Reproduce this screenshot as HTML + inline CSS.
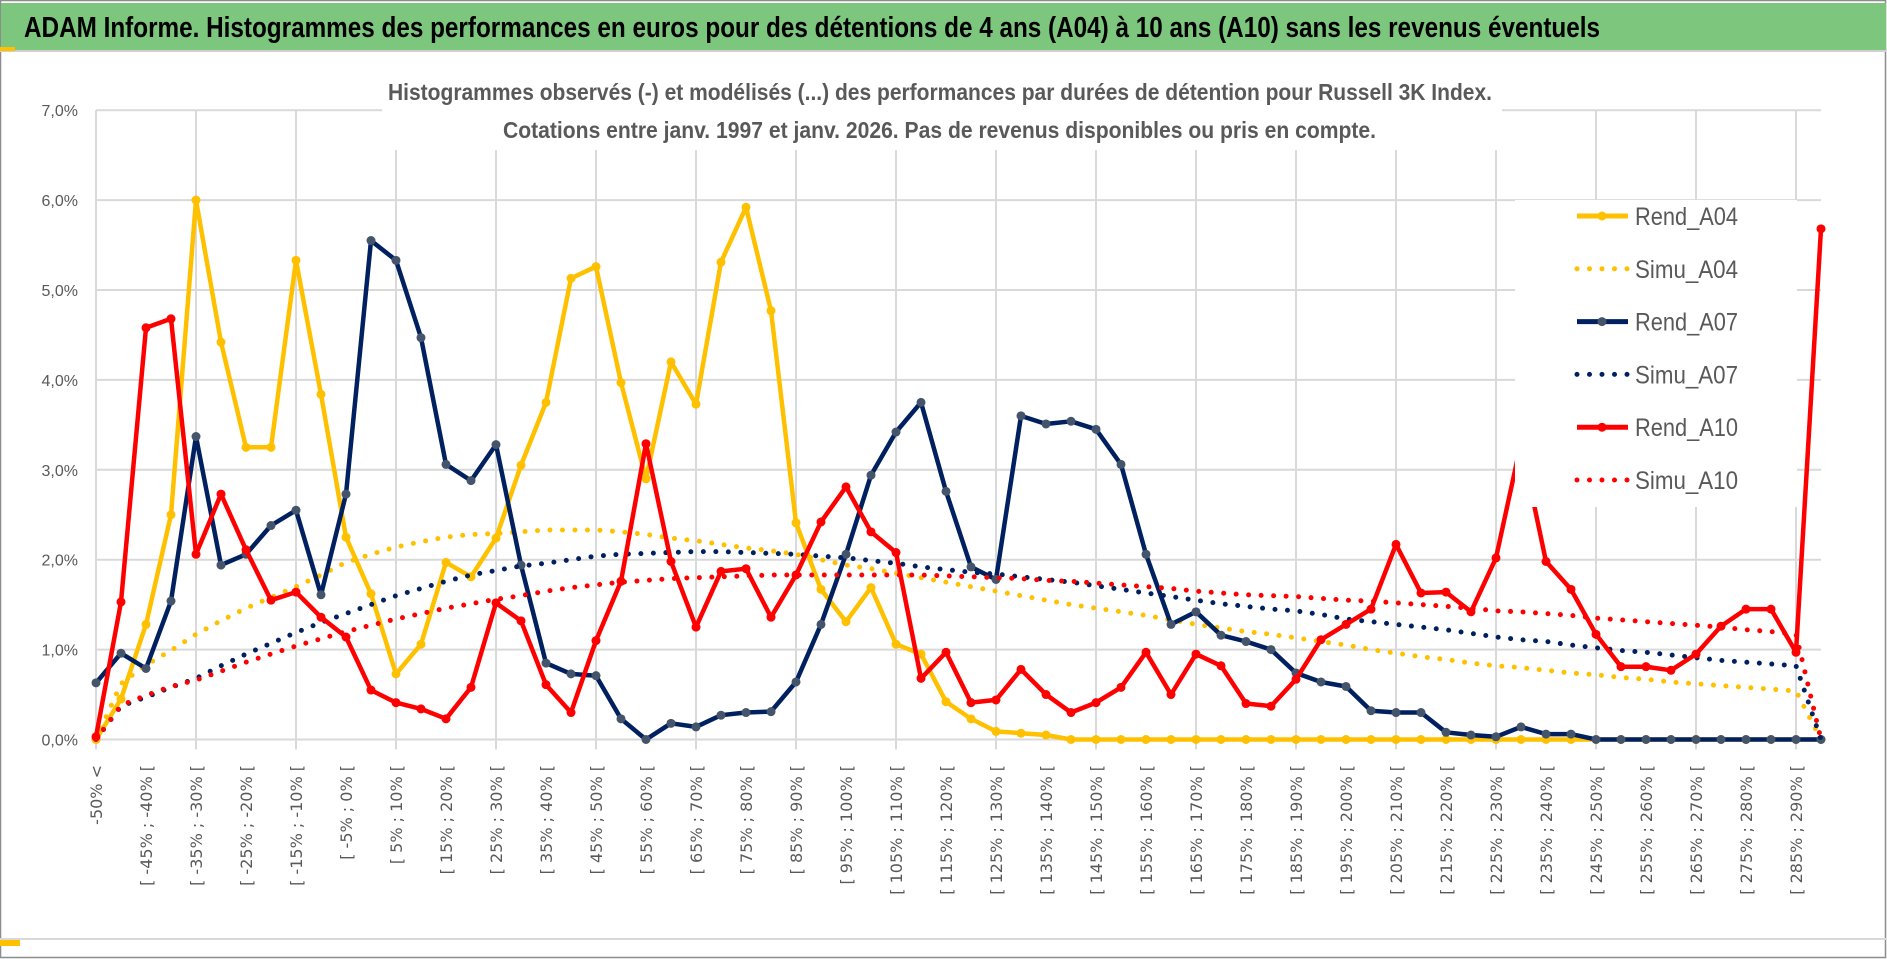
<!DOCTYPE html>
<html><head><meta charset="utf-8"><style>
html,body{margin:0;padding:0;background:#fff;}
svg{display:block;font-family:"Liberation Sans",sans-serif;}
</style></head><body>
<svg id="chart" width="1887" height="959" viewBox="0 0 1887 959" xmlns="http://www.w3.org/2000/svg">
<rect x="0" y="0" width="1887" height="959" fill="#fff"/>
<rect x="0.5" y="0.5" width="1885" height="957" fill="none" stroke="#8c8c8c" stroke-width="1.5"/>
<rect x="1" y="3" width="1885" height="47" fill="#7DC67D"/>
<line x1="0" y1="51" x2="1887" y2="51" stroke="#d0d0d0" stroke-width="2"/>
<rect x="0" y="47" width="15" height="4" fill="#FFC000"/>
<line x1="0" y1="939" x2="1887" y2="939" stroke="#d9d9d9" stroke-width="2"/>
<rect x="0" y="940" width="20" height="6" fill="#FFC000"/>
<text x="24" y="37" font-size="29" font-weight="bold" fill="#000" textLength="1576" lengthAdjust="spacingAndGlyphs">ADAM Informe. Histogrammes des performances en euros pour des détentions de 4 ans (A04) à 10 ans (A10) sans les revenus éventuels</text>
<g id="grid"></g>
<g id="yaxis"></g>
<g id="xaxis"></g>
<rect x="382" y="68" width="1120" height="82" fill="#fff"/>
<text x="388" y="100" font-size="23" font-weight="bold" fill="#595959" textLength="1104" lengthAdjust="spacingAndGlyphs">Histogrammes observés (-) et modélisés (...) des performances par durées de détention pour Russell 3K Index.</text>
<text x="503" y="138" font-size="23" font-weight="bold" fill="#595959" textLength="873" lengthAdjust="spacingAndGlyphs">Cotations entre janv. 1997 et janv. 2026. Pas de revenus disponibles ou pris en compte.</text>
<g id="series"></g>
<g id="legend"></g>
</svg>
<script>
const categories = ["-50% <","[ -50% ; -45% [","[ -45% ; -40% [","[ -40% ; -35% [","[ -35% ; -30% [","[ -30% ; -25% [","[ -25% ; -20% [","[ -20% ; -15% [","[ -15% ; -10% [","[ -10% ; -5% [","[ -5% ; 0% [","[ 0% ; 5% [","[ 5% ; 10% [","[ 10% ; 15% [","[ 15% ; 20% [","[ 20% ; 25% [","[ 25% ; 30% [","[ 30% ; 35% [","[ 35% ; 40% [","[ 40% ; 45% [","[ 45% ; 50% [","[ 50% ; 55% [","[ 55% ; 60% [","[ 60% ; 65% [","[ 65% ; 70% [","[ 70% ; 75% [","[ 75% ; 80% [","[ 80% ; 85% [","[ 85% ; 90% [","[ 90% ; 95% [","[ 95% ; 100% [","[ 100% ; 105% [","[ 105% ; 110% [","[ 110% ; 115% [","[ 115% ; 120% [","[ 120% ; 125% [","[ 125% ; 130% [","[ 130% ; 135% [","[ 135% ; 140% [","[ 140% ; 145% [","[ 145% ; 150% [","[ 150% ; 155% [","[ 155% ; 160% [","[ 160% ; 165% [","[ 165% ; 170% [","[ 170% ; 175% [","[ 175% ; 180% [","[ 180% ; 185% [","[ 185% ; 190% [","[ 190% ; 195% [","[ 195% ; 200% [","[ 200% ; 205% [","[ 205% ; 210% [","[ 210% ; 215% [","[ 215% ; 220% [","[ 220% ; 225% [","[ 225% ; 230% [","[ 230% ; 235% [","[ 235% ; 240% [","[ 240% ; 245% [","[ 245% ; 250% [","[ 250% ; 255% [","[ 255% ; 260% [","[ 260% ; 265% [","[ 265% ; 270% [","[ 270% ; 275% [","[ 275% ; 280% [","[ 280% ; 285% [","[ 285% ; 290% [","[ 290% ; 295% ["];
const yTicks = [0,1,2,3,4,5,6,7];
const yTickLabels = ["0,0%","1,0%","2,0%","3,0%","4,0%","5,0%","6,0%","7,0%"];
const rendA04 = [0,0.45,1.28,2.5,6.0,4.42,3.25,3.25,5.33,3.84,2.25,1.62,0.73,1.06,1.97,1.81,2.24,3.05,3.75,5.13,5.26,3.97,2.90,4.20,3.73,5.31,5.92,4.77,2.41,1.67,1.31,1.69,1.06,0.95,0.42,0.23,0.09,0.07,0.05,0,0,0,0,0,0,0,0,0,0,0,0,0,0,0,0,0,0,0,0,0,0,0,0,0,0,0,0,0,0,0];
const simuA04 = [0,0.62,0.83,0.99,1.17,1.32,1.46,1.58,1.70,1.83,1.97,2.06,2.14,2.20,2.25,2.28,2.29,2.31,2.33,2.33,2.33,2.31,2.28,2.24,2.21,2.17,2.13,2.10,2.06,2.00,1.94,1.90,1.85,1.80,1.75,1.70,1.65,1.60,1.55,1.50,1.46,1.42,1.38,1.33,1.28,1.24,1.20,1.17,1.13,1.09,1.05,1.00,0.96,0.92,0.89,0.85,0.82,0.80,0.77,0.74,0.72,0.69,0.67,0.64,0.62,0.60,0.58,0.56,0.54,0];
const rendA07 = [0.63,0.96,0.79,1.54,3.37,1.94,2.06,2.38,2.55,1.61,2.73,5.55,5.33,4.47,3.06,2.88,3.28,1.94,0.85,0.73,0.71,0.23,0,0.18,0.14,0.27,0.30,0.31,0.64,1.28,2.06,2.94,3.42,3.75,2.76,1.92,1.78,3.60,3.51,3.54,3.45,3.06,2.06,1.28,1.42,1.16,1.09,1.00,0.74,0.64,0.59,0.32,0.30,0.30,0.08,0.05,0.03,0.14,0.06,0.06,0,0,0,0,0,0,0,0,0,0];
const simuA07 = [0,0.37,0.47,0.58,0.68,0.82,0.95,1.07,1.19,1.30,1.40,1.50,1.60,1.68,1.76,1.83,1.88,1.93,1.96,2.00,2.04,2.06,2.07,2.08,2.09,2.09,2.08,2.07,2.06,2.04,2.02,1.99,1.96,1.92,1.89,1.86,1.84,1.81,1.78,1.75,1.71,1.67,1.63,1.59,1.55,1.51,1.48,1.45,1.43,1.39,1.34,1.31,1.28,1.25,1.22,1.18,1.14,1.11,1.09,1.05,1.02,0.99,0.97,0.94,0.91,0.88,0.86,0.84,0.82,0];
const rendA10 = [0.03,1.53,4.58,4.68,2.06,2.73,2.11,1.55,1.64,1.36,1.14,0.55,0.41,0.34,0.23,0.58,1.52,1.32,0.61,0.30,1.10,1.76,3.29,1.98,1.25,1.87,1.90,1.36,1.83,2.42,2.81,2.31,2.08,0.68,0.97,0.41,0.44,0.78,0.50,0.30,0.41,0.58,0.97,0.50,0.95,0.82,0.40,0.37,0.67,1.11,1.28,1.45,2.17,1.63,1.64,1.42,2.02,3.3,1.98,1.67,1.17,0.81,0.81,0.77,0.95,1.26,1.45,1.45,0.97,5.68];
const simuA10 = [0,0.38,0.49,0.59,0.66,0.76,0.86,0.95,1.04,1.12,1.20,1.27,1.34,1.40,1.46,1.51,1.56,1.60,1.65,1.69,1.72,1.75,1.77,1.79,1.80,1.81,1.82,1.83,1.83,1.83,1.83,1.83,1.83,1.83,1.82,1.81,1.80,1.79,1.77,1.76,1.74,1.72,1.70,1.68,1.65,1.63,1.61,1.60,1.59,1.57,1.55,1.54,1.52,1.50,1.48,1.46,1.43,1.42,1.40,1.38,1.35,1.33,1.31,1.29,1.27,1.25,1.22,1.20,1.17,0];
const seriesNames = ["Rend_A04","Simu_A04","Rend_A07","Simu_A07","Rend_A10","Simu_A10"];

const NS = "http://www.w3.org/2000/svg";
const X0 = 96, STEP = 25, Y0 = 739.5, PER = 89.9, XR = 1821;
function xPos(i){ return X0 + STEP * i; }
function yPos(v){ return Y0 - v * PER; }
function mk(tag, attrs, parent){ const e = document.createElementNS(NS, tag); for (const k in attrs) e.setAttribute(k, attrs[k]); parent.appendChild(e); return e; }

const grid = document.getElementById('grid');
yTicks.forEach((t) => {
  const l = mk('line', {x1: X0, x2: XR, y1: yPos(t), y2: yPos(t), stroke: '#d9d9d9', 'stroke-width': 2}, grid);
  
  
});
for (let i = 0; i < categories.length; i += 4) {
  const l = mk('line', {x1: xPos(i), x2: xPos(i), y1: yPos(7), y2: Y0 + 10, stroke: '#d9d9d9', 'stroke-width': 2}, grid);
  
  
}
const yaxis = document.getElementById('yaxis');
yTicks.forEach((t, k) => {
  const tx = mk('text', {x: 78, y: yPos(t) + 6, 'text-anchor': 'end', 'font-size': 16, fill: '#595959'}, yaxis);
  tx.textContent = yTickLabels[k];
  
  
});
const xaxis = document.getElementById('xaxis');
categories.forEach((c, i) => {
  if (i % 2 !== 0) return;
  const tx = mk('text', {transform: 'translate(' + (xPos(i) + 6) + ',765) rotate(-90)', 'text-anchor': 'end', 'font-size': 16, fill: '#595959', 'font-family': '"DejaVu Sans", sans-serif'}, xaxis);
  tx.textContent = c;
  
  
});

const sg = document.getElementById('series');
function drawRend(vals, color, markerFill, name){
  const g = mk('g', {}, sg);
  
  
  const pts = vals.map((v, i) => xPos(i).toFixed(1) + ',' + yPos(v).toFixed(1)).join(' ');
  const p = mk('polyline', {points: pts, fill: 'none', stroke: color, 'stroke-width': 4.5, 'stroke-linejoin': 'round'}, g);
  
  
  vals.forEach((v, i) => {
    const c = mk('circle', {cx: xPos(i), cy: yPos(v), r: 4.5, fill: markerFill}, g);
    
    
  });
}
function drawSimu(vals, color, name){
  const pts = vals.map((v, i) => xPos(i).toFixed(1) + ',' + yPos(v).toFixed(1)).join(' ');
  const p = mk('polyline', {points: pts, fill: 'none', stroke: color, 'stroke-width': 5, 'stroke-linecap': 'round', 'stroke-linejoin': 'round', 'stroke-dasharray': '0 12.5'}, sg);
  
  
}
drawRend(rendA04, '#FFC000', '#FFC000', 'rend-a04');
drawSimu(simuA04, '#FFC000', 'simu-a04');
drawRend(rendA07, '#002060', '#44546A', 'rend-a07');
drawSimu(simuA07, '#002060', 'simu-a07');
drawRend(rendA10, '#FF0000', '#FF0000', 'rend-a10');
drawSimu(simuA10, '#FF0000', 'simu-a10');

const lg = document.getElementById('legend');
const lbg = mk('rect', {x: 1515, y: 200, width: 282, height: 307, fill: '#fff'}, lg);


const legColors = ['#FFC000','#FFC000','#002060','#002060','#FF0000','#FF0000'];
const legMarker = ['#FFC000','#FFC000','#44546A','#44546A','#FF0000','#FF0000'];
seriesNames.forEach((n, k) => {
  const cy = 216 + 52.8 * k;
  const g = mk('g', {}, lg);
  
  
  if (k % 2 === 0) {
    mk('line', {x1: 1577, x2: 1628, y1: cy, y2: cy, stroke: legColors[k], 'stroke-width': 5}, g);
    mk('circle', {cx: 1602, cy: cy, r: 4.5, fill: legMarker[k]}, g);
  } else {
    mk('line', {x1: 1577, x2: 1628, y1: cy, y2: cy, stroke: legColors[k], 'stroke-width': 5, 'stroke-linecap': 'round', 'stroke-dasharray': '0 12.5'}, g);
  }
  const t = mk('text', {x: 1635, y: cy + 9, 'font-size': 25, fill: '#595959', textLength: 103, lengthAdjust: 'spacingAndGlyphs'}, g);
  t.textContent = n;
});
</script>
</body></html>
